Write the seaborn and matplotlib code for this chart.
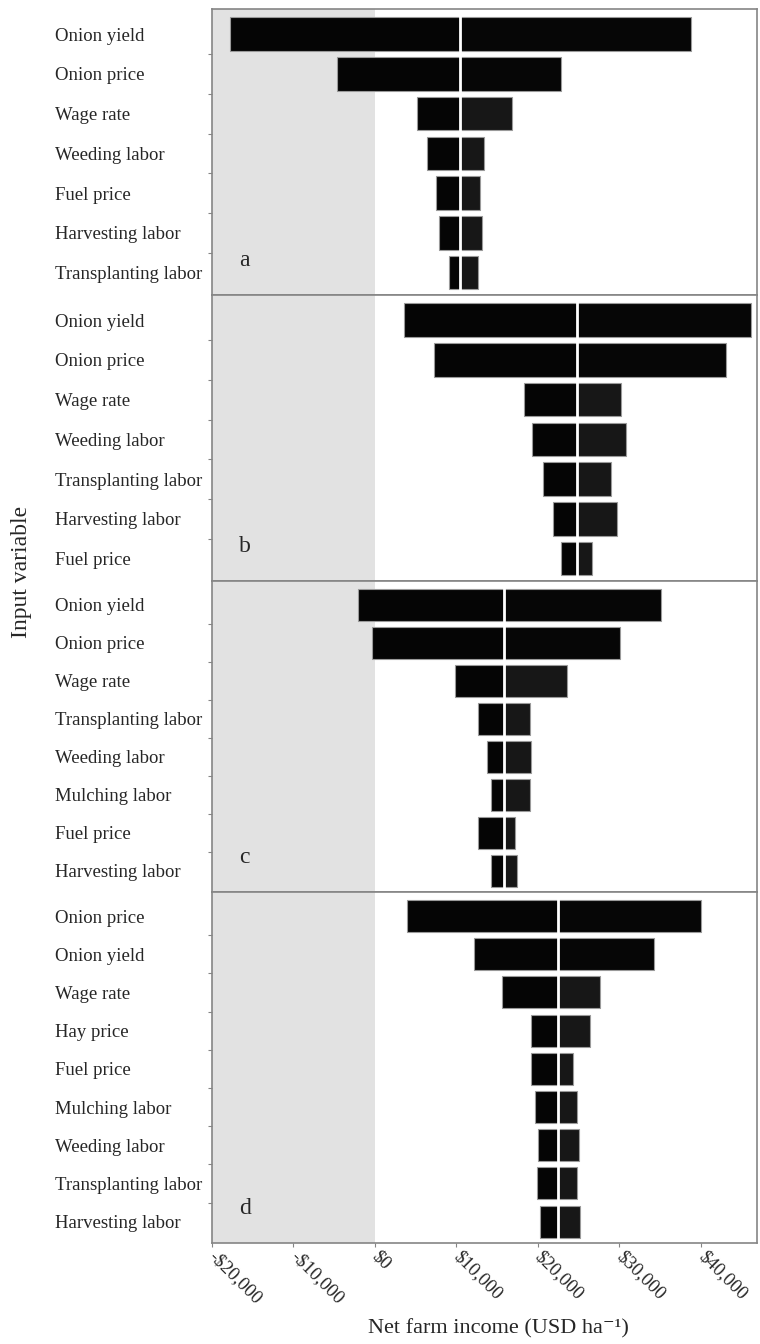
import matplotlib
matplotlib.use("Agg")
import matplotlib.pyplot as plt
from matplotlib.ticker import FixedLocator, FuncFormatter
import seaborn as sns
import pandas as pd

# ---- sensitivity data: net farm income (USD/ha) at low / high input value ----
vars_a = ["Onion yield", "Onion price", "Wage rate", "Weeding labor",
          "Fuel price", "Harvesting labor", "Transplanting labor"]
low_a = [-17700, -4600, 5200, 6400, 7500, 7900, 9100]
high_a = [38800, 22800, 16800, 13400, 12900, 13100, 12700]
base_a = 10450

vars_b = ["Onion yield", "Onion price", "Wage rate", "Weeding labor",
          "Transplanting labor", "Harvesting labor", "Fuel price"]
low_b = [3600, 7300, 18300, 19300, 20600, 21800, 22800]
high_b = [46100, 43100, 30200, 30800, 29000, 29700, 26600]
base_b = 24800

vars_c = ["Onion yield", "Onion price", "Wage rate", "Transplanting labor",
          "Weeding labor", "Mulching labor", "Fuel price", "Harvesting labor"]
low_c = [-2000, -350, 9800, 12700, 13700, 14300, 12700, 14300]
high_c = [35100, 30100, 23600, 19000, 19100, 19000, 17200, 17500]
base_c = 15850

vars_d = ["Onion price", "Onion yield", "Wage rate", "Hay price", "Fuel price",
          "Mulching labor", "Weeding labor", "Transplanting labor", "Harvesting labor"]
low_d = [4000, 12200, 15600, 19100, 19100, 19700, 20050, 19900, 20300]
high_d = [39950, 34200, 27600, 26400, 24300, 24750, 25050, 24850, 25200]
base_d = 22500

panel_letters = ["a", "b", "c", "d"]
x_ticks = [-20000, -10000, 0, 10000, 20000, 30000, 40000]

sns.set_style("white")
plt.rcParams["font.family"] = ["Liberation Serif", "DejaVu Serif"]

W, H = 760, 1344
fig = plt.figure(figsize=(W / 100, H / 100), dpi=100)

x_left, x_right = 211.7, 757
panel_px = [(9, 295), (295, 581), (581, 892), (892, 1243)]
panels = [
    (vars_a, low_a, high_a, base_a),
    (vars_b, low_b, high_b, base_b),
    (vars_c, low_c, high_c, base_c),
    (vars_d, low_d, high_d, base_d),
]

spine_col = "#858585"
edge_col = "#9a9a9a"
bar_h = 0.84

axes = []
for k, ((top, bot), (names, lows, highs, base)) in enumerate(zip(panel_px, panels)):
    ax = fig.add_axes([x_left / W, 1 - bot / H, (x_right - x_left) / W, (bot - top) / H])
    axes.append(ax)
    n = len(names)

    # grey band for negative income
    ax.axvspan(-20000, 0, color="#e2e2e2", lw=0, zorder=0)

    df = pd.DataFrame({"var": names, "low": lows, "high": highs})
    df["left_w"] = base - df["low"]
    df["right_w"] = df["high"] - base

    # left half: from low value up to base case
    sns.barplot(data=df, x="left_w", y="var", order=names, orient="h",
                left=df["low"].to_numpy(), color="#050505", saturation=1,
                errorbar=None, width=bar_h, edgecolor=edge_col, linewidth=0.8,
                ax=ax, zorder=2)
    n_left = len(ax.patches)
    # right half: from base case up to high value
    sns.barplot(data=df, x="right_w", y="var", order=names, orient="h",
                left=base, color="#171717", saturation=1,
                errorbar=None, width=bar_h, edgecolor=edge_col, linewidth=0.8,
                ax=ax, zorder=2)
    for i, p in enumerate(ax.patches[n_left:]):
        if i < 2:
            p.set_facecolor("#060606")

    # base-case divider
    ax.vlines(base, -0.5, n - 0.5, color="white", lw=2.0, zorder=3)

    ax.set_xlim(-20000, 46870)
    ax.set_ylim(n - 1 + 0.56, -0.63)

    # category labels, left aligned
    ax.set_yticks(range(n))
    ax.set_yticklabels(names, ha="left", fontsize=13.5)
    ax.tick_params(axis="y", which="major", length=0, pad=(x_left - 55) * 72 / 100)
    ax.yaxis.set_minor_locator(FixedLocator([i + 0.5 for i in range(n - 1)]))
    ax.tick_params(axis="y", which="minor", length=3, width=0.8, color=spine_col, left=True)
    ax.set_ylabel("")
    ax.set_xlabel("")

    for s in ax.spines.values():
        s.set_color(spine_col)
        s.set_linewidth(1.2)
        s.set_visible(True)

    ax.set_xticks(x_ticks)
    if k < 3:
        ax.tick_params(axis="x", which="both", bottom=False, labelbottom=False)
    else:
        ax.tick_params(axis="x", bottom=True, length=3, width=0.8, color=spine_col, pad=5)
        ax.xaxis.set_major_formatter(FuncFormatter(
            lambda v, _: ("-$" if v < 0 else "$") + f"{abs(int(v)):,}"))
        for lab in ax.get_xticklabels():
            lab.set_rotation(-45)
            lab.set_ha("left")
            lab.set_va("center")
            lab.set_rotation_mode("anchor")
            lab.set_fontsize(13.5)

    ax.annotate(panel_letters[k], xy=(0.05, 0), xycoords="axes fraction",
                xytext=(0, 21), textcoords="offset points",
                ha="left", va="baseline", fontsize=17, zorder=4)

fig.text(22 / W, 1 - 572 / H, "Input variable", rotation=90,
         ha="center", va="center", fontsize=17)
fig.text(498 / W, 1 - 1333 / H, "Net farm income (USD ha\u207b\u00b9)",
         ha="center", va="baseline", fontsize=16)

fig.savefig("out.png", dpi=100)
